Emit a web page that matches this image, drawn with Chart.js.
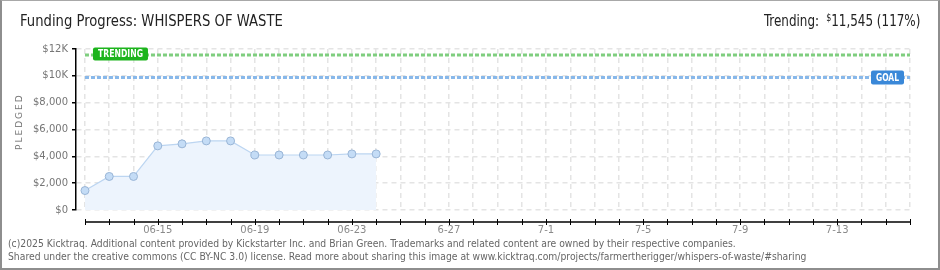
<!DOCTYPE html>
<html>
<head>
<meta charset="utf-8">
<script src="https://cdn.jsdelivr.net/npm/chart.js@4"></script>
<style>
  body { margin: 0; background: #fff; }
  #wrap { position: relative; width: 940px; height: 270px; overflow: hidden; }
  #frame { position: absolute; left: 0; top: 0; width: 940px; height: 270px; box-sizing: border-box;
           border: 2px solid #8e8e8e; border-top: 1px solid #a8a8a8; pointer-events: none; }
  canvas { position: absolute; left: 0; top: 0; }
  .txt { position: absolute; white-space: nowrap; transform-origin: 0 0; }
  #title { left: 20px; top: 12px; font: 15px "DejaVu Sans Condensed", sans-serif; color: #222; }
  #trend { left: 764px; top: 12px; font: 15px "DejaVu Sans Condensed", sans-serif; color: #222; }
  #trend sup { font-size: 10px; vertical-align: 5px; margin-left: 8px; }
  #pledged { left: 14px; top: 150px; font: 9px "DejaVu Sans", sans-serif; color: #777;
             letter-spacing: 2px; transform: rotate(-90deg); }
  .foot { left: 8px; font: 10px "DejaVu Sans Condensed", sans-serif; color: #666; }
  #foot1 { top: 238px; }
  #foot2 { top: 251px; }
</style>
</head>
<body>
<div id="wrap">
  <canvas id="chart" width="940" height="270"></canvas>
  <div class="txt" id="title">Funding Progress: WHISPERS OF WASTE</div>
  <div class="txt" id="trend">Trending:<sup>$</sup>11,545 (117%)</div>
  <div class="txt" id="pledged">PLEDGED</div>
  <div class="txt foot" id="foot1">(c)2025 Kicktraq. Additional content provided by Kickstarter Inc. and Brian Green. Trademarks and related content are owned by their respective companies.</div>
  <div class="txt foot" id="foot2">Shared under the creative commons (CC BY-NC 3.0) license. Read more about sharing this image at www.kicktraq.com/projects/farmertherigger/whispers-of-waste/#sharing</div>
  <div id="frame"></div>
</div>
<script>
// days on the x axis (06-12 .. 07-16), written as the chart shows them
const dayLabels = [
  '06-12', '06-13', '06-14', '06-15', '06-16', '06-17', '06-18', '06-19', '06-20',
  '06-21', '06-22', '06-23', '06-24', '6-25', '6-26', '6-27', '6-28', '6-29', '6-30',
  '7-1', '7-2', '7-3', '7-4', '7-5', '7-6', '7-7', '7-8', '7-9', '7-10', '7-11',
  '7-12', '7-13', '7-14', '7-15', '7-16'
];
// pledged total per day
const pledged = [1450, 2500, 2500, 4780, 4930, 5150, 5150, 4100, 4100, 4100, 4100, 4180, 4180];
const goal = 9870;
const trending = 11545;
const yTickValues = [0, 1000, 2000, 3000, 4000, 5000, 6000, 7000, 8000, 9000, 10000, 11000, 12000];
const yTickLabels = ['$0', '', '$2,000', '', '$4,000', '', '$6,000', '', '$8,000', '', '$10K', '', '$12K'];

const lastDay = dayLabels.length - 1;

// fit the html texts to the widths they have in the picture
function fit(el, target) {
  const s = target / el.offsetWidth;
  el.style.transform = 'scaleX(' + s + ')';
  return s;
}
fit(document.getElementById('title'), 263);
fit(document.getElementById('trend'), 156);
const fs = fit(document.getElementById('foot1'), 728);
document.getElementById('foot2').style.transform = 'scaleX(' + fs + ')';

const markers = {
  id: 'markers',
  afterDatasetsDraw(chart) {
    const ctx = chart.ctx;
    const x = chart.scales.x, y = chart.scales.y;
    const base = chart.chartArea.bottom + 12;
    // x axis line, sitting a little below the $0 line
    ctx.save();
    ctx.strokeStyle = '#000';
    ctx.lineWidth = 1.5;
    ctx.beginPath();
    ctx.moveTo(x.getPixelForValue(0), base);
    ctx.lineTo(x.getPixelForValue(lastDay), base);
    ctx.stroke();
    ctx.lineWidth = 1;
    for (let i = 0; i <= lastDay; i++) {
      const px = Math.round(x.getPixelForValue(i)) + 0.5;
      ctx.beginPath();
      ctx.moveTo(px, base - 3);
      ctx.lineTo(px, base + 3);
      ctx.stroke();
    }

    function tag(text, left, cy, w, h, color) {
      ctx.fillStyle = color;
      ctx.beginPath();
      ctx.roundRect(left, cy - h / 2, w, h, 2);
      ctx.fill();
      ctx.fillStyle = '#fff';
      ctx.font = 'bold 10px "DejaVu Sans Condensed", sans-serif';
      ctx.textAlign = 'center';
      ctx.textBaseline = 'middle';
      ctx.fillText(text, left + w / 2, cy + 0.5, w - 10);
    }
    tag('TRENDING', x.getPixelForValue(0) + 8, y.getPixelForValue(trending) - 1, 55, 13, '#1db41d');
    tag('GOAL', x.getPixelForValue(lastDay) - 39, y.getPixelForValue(goal), 33, 14, '#3a88d8');
    ctx.restore();
  }
};

new Chart(document.getElementById('chart'), {
  type: 'line',
  data: {
    datasets: [
      {
        data: pledged.map((v, i) => ({ x: i, y: v })),
        fill: 'origin',
        backgroundColor: '#edf4fd',
        borderColor: '#bcd5f1',
        borderWidth: 1.2,
        pointRadius: 4,
        pointBackgroundColor: '#c4dcf6',
        pointBorderColor: '#99b5d6',
        pointBorderWidth: 1,
        tension: 0
      },
      {
        data: [{ x: 0, y: trending }, { x: lastDay, y: trending }],
        borderColor: '#7fce7f',
        borderWidth: 3,
        borderDash: [4, 2],
        pointRadius: 0,
        fill: false
      },
      {
        data: [{ x: 0, y: goal }, { x: lastDay, y: goal }],
        borderColor: '#88b8ea',
        borderWidth: 3,
        borderDash: [4, 2],
        pointRadius: 0,
        fill: false
      }
    ]
  },
  options: {
    responsive: false,
    animation: false,
    layout: { padding: { left: 0, top: 49, right: 30, bottom: 0 } },
    plugins: { legend: { display: false }, tooltip: { enabled: false } },
    scales: {
      x: {
        type: 'linear',
        min: -0.37,
        max: lastDay,
        afterBuildTicks: (scale) => { scale.ticks = dayLabels.map((d, i) => ({ value: i })); },
        afterFit: (scale) => { scale.height = 60; },
        border: { display: false, dash: [5, 4] },
        grid: { color: '#e4e4e4', lineWidth: 1.5, drawTicks: false },
        ticks: {
          autoSkip: false,
          maxRotation: 0,
          padding: 14,
          color: '#8a8a8a',
          font: { family: 'DejaVu Sans', size: 10 },
          callback: (v) => (v % 4 === 3 ? dayLabels[v] : '')
        }
      },
      y: {
        min: 0,
        max: 12000,
        afterBuildTicks: (scale) => { scale.ticks = yTickValues.map((v) => ({ value: v })); },
        afterFit: (scale) => { scale.width = 76; },
        border: { display: true, color: '#000', width: 1.5, dash: [5, 4] },
        grid: {
          color: (c) => (c.tick && c.tick.value % 2000 === 0 ? '#e4e4e4' : 'rgba(0,0,0,0)'),
          lineWidth: 1.5,
          tickLength: 4,
          tickWidth: 1.5,
          tickBorderDash: [],
          tickColor: (c) => (c.tick && c.tick.value % 2000 === 0 ? '#000' : '#e00000')
        },
        ticks: {
          padding: 4,
          color: '#767676',
          font: { family: 'DejaVu Sans', size: 10 },
          callback: (v) => yTickLabels[yTickValues.indexOf(v)]
        }
      }
    }
  },
  plugins: [markers]
});
</script>
</body>
</html>
